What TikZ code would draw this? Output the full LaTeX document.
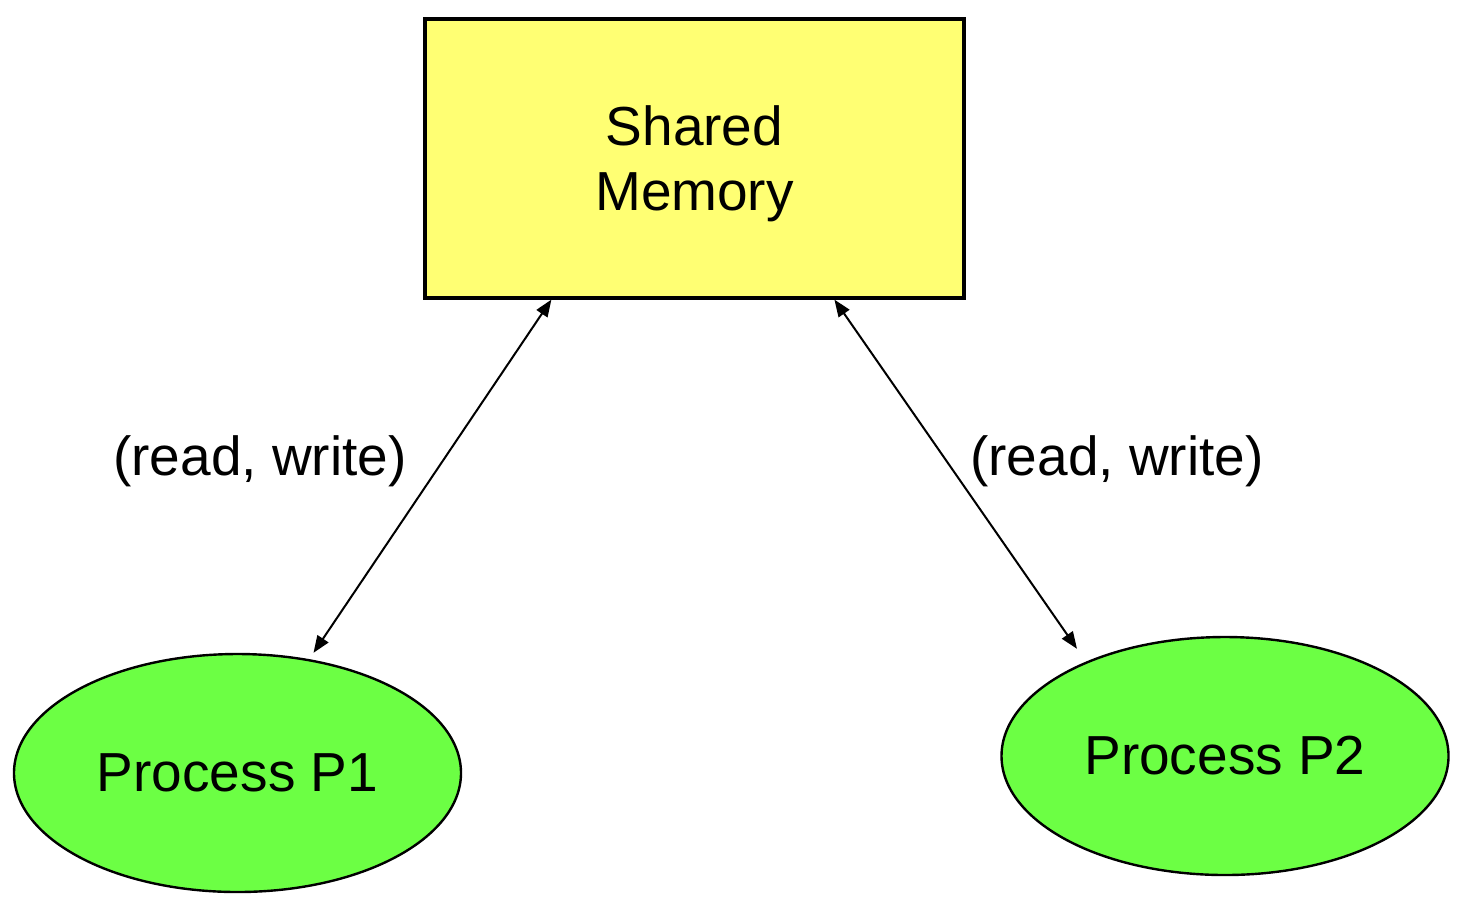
\documentclass[tikz,border=0pt]{standalone}
\usepackage{fontspec}
\setmainfont{Liberation Sans}
\usetikzlibrary{positioning, arrows.meta, shapes.geometric}
\definecolor{memyellow}{RGB}{255,255,115}
\definecolor{procgreen}{RGB}{108,255,68}

\begin{document}
\begin{tikzpicture}[x=0.5pt, y=-0.5pt,
        font=\fontsize{27.5}{32.5}\selectfont,
        memory/.style={draw, line width=1.6pt, fill=memyellow, minimum width=269.5pt, minimum height=139.5pt, inner sep=0pt, align=center, text depth=0pt},
        process/.style={ellipse, draw, line width=1.2pt, fill=procgreen, minimum width=223.5pt, minimum height=119pt, inner sep=0pt},
        rw/.style={line width=1pt, {Triangle[length=8.5pt,width=6.5pt]}-{Triangle[length=8.5pt,width=6.5pt]}}]
                \useasboundingbox (0,0) rectangle (1460,896);
                \node[memory] (mem) at (694.5,158.5) {Shared\\Memory};
                \node[process] (p1) at (237.5,773) {Process P1};
                \node[process] (p2) at (1225,756) {Process P2};
                \node[] (rw1) at (260,461) {(read, write)};
                \node[] (rw2) at (1117,461) {(read, write)};
                \draw[rw] ([xshift=64pt]mem.south west) -- ([xshift=38pt]p1.north);
                \draw[rw] ([xshift=205.5pt]mem.south west) -- ([xshift=-74pt,yshift=-6.5pt]p2.north);
            \end{tikzpicture}
\end{document}
